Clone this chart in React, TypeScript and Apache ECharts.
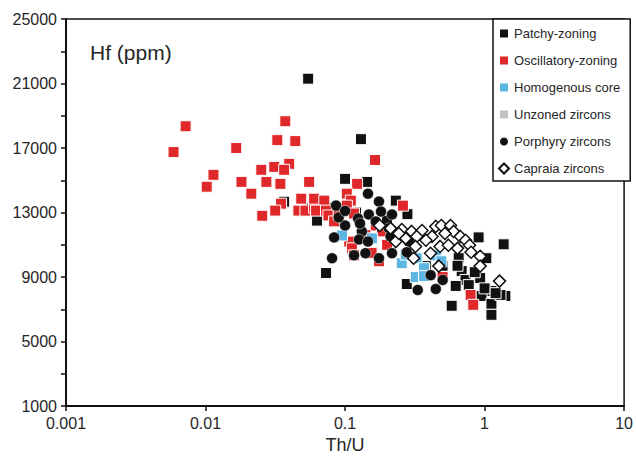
import React, { useEffect, useRef } from "react";
import * as echarts from "echarts";

const seriesNames = [
  "Patchy-zoning",
  "Oscillatory-zoning",
  "Homogenous core",
  "Unzoned zircons",
  "Porphyry zircons",
  "Capraia zircons",
];

const patchy: number[][] = [
  [0.0544, 21300], [0.13, 17550], [0.1, 15090], [0.144, 14900], [0.231, 13740],
  [0.0366, 13670], [0.057, 13250], [0.063, 12500], [0.075, 13300], [0.12, 13000],
  [0.0731, 9250], [0.906, 11460], [1.37, 11030], [1.03, 10170], [0.652, 10170],
  [0.685, 9370], [0.73, 8820], [0.621, 8450], [0.77, 8500], [0.93, 8940],
  [1.12, 8140], [0.95, 7830], [0.581, 7220], [1.12, 7340], [1.12, 6660],
  [1.41, 7830], [1.3, 7890], [0.277, 8570], [0.379, 9680], [0.64, 9700],
  [0.85, 9300], [1.0, 8300], [1.2, 8000], [0.5, 9700], [0.2, 12500], [0.28, 12900],
];

const oscillatory: number[][] = [
  [0.0059, 16750], [0.0072, 18350], [0.0166, 17000], [0.0114, 15340], [0.0102, 14600],
  [0.0181, 14900], [0.0213, 14170], [0.0251, 15650], [0.0255, 12800], [0.0273, 14900],
  [0.0311, 15830], [0.0327, 17490], [0.0344, 14780], [0.0373, 18660], [0.0398, 16020],
  [0.0366, 15650], [0.044, 17430], [0.0348, 13550], [0.0316, 13120], [0.0485, 13860],
  [0.0553, 14900], [0.0463, 13120], [0.052, 13120], [0.06, 13300], [0.164, 16260],
  [0.122, 14780], [0.103, 14170], [0.26, 13430], [0.06, 13860], [0.071, 13740],
  [0.062, 13120], [0.073, 13120], [0.076, 12820], [0.11, 13740], [0.103, 13430],
  [0.116, 12940], [0.0835, 12450], [0.166, 12200], [0.184, 11830], [0.107, 11200],
  [0.112, 10780], [0.175, 9980], [0.116, 10350], [0.794, 7890], [0.83, 7280],
  [0.09, 12900], [0.14, 11600], [0.2, 11000], [0.155, 10500], [0.5, 9000],
];

const homogenous: number[][] = [
  [0.0952, 11580], [0.156, 11400], [0.255, 9860], [0.326, 10170], [0.368, 9550],
  [0.321, 9000], [0.368, 9060], [0.447, 10350], [0.49, 9980], [0.272, 10400],
];

const unzoned: number[][] = [];

const porphyry: number[][] = [
  [0.146, 14170], [0.0863, 13430], [0.175, 13680], [0.148, 12880], [0.181, 13060],
  [0.217, 12880], [0.1, 12200], [0.124, 12630], [0.132, 11830], [0.206, 12020],
  [0.0835, 11460], [0.126, 11330], [0.146, 11200], [0.212, 11520], [0.286, 11200],
  [0.0807, 10170], [0.116, 10350], [0.14, 10480], [0.175, 10170], [0.217, 10480],
  [0.277, 10540], [0.411, 9120], [0.501, 8820], [0.332, 8200], [0.447, 8260],
  [0.128, 12320], [0.166, 12450], [0.09, 12700], [0.1, 13100],
];

const capraia: number[][] = [
  [0.177, 12200], [0.212, 12020], [0.255, 11950], [0.3, 11830], [0.356, 11890],
  [0.447, 12140], [0.49, 12200], [0.57, 12200], [0.6, 11830], [0.67, 11520],
  [0.73, 11280], [0.52, 11700], [0.42, 11520], [0.38, 11280], [0.326, 11520],
  [0.272, 11400], [0.231, 11200], [0.243, 11700], [0.32, 10900], [0.41, 10480],
  [0.48, 10900], [0.55, 10970], [0.64, 10780], [0.78, 10970], [0.8, 10540],
  [0.93, 10290], [0.93, 9680], [0.47, 9680], [0.31, 10170], [1.28, 8750],
];

const xTickValues = [0.001, 0.01, 0.1, 1, 10];
const xTickLabels = ["0.001", "0.01", "0.1", "1", "10"];
const yLabelValues = [1000, 5000, 9000, 13000, 17000, 21000, 25000];
const yTickValues = [1000, 3000, 5000, 7000, 9000, 11000, 13000, 15000, 17000, 19000, 21000, 23000, 25000];

const FONT = "'Liberation Sans', Arial, Helvetica, sans-serif";
const TEXT = "#262626";

export default function App() {
  const ref = useRef<HTMLDivElement>(null);
  useEffect(() => {
    document.body.style.margin = "0";
    if (!ref.current) return;
    const chart = echarts.init(ref.current, null, { renderer: "svg" });
    const sq = (color: string) => ({ color, borderColor: "#fff", borderWidth: 1, opacity: 1 });
    chart.setOption({
      animation: false,
      backgroundColor: "#fff",
      textStyle: { fontFamily: FONT },
      grid: {
        left: 66, right: 9, top: 19, bottom: 50,
        show: true, borderColor: "#111", borderWidth: 1.5, backgroundColor: "transparent",
      },
      xAxis: {
        type: "log",
        logBase: 10,
        min: 0.001,
        max: 10,
        name: "Th/U",
        nameLocation: "middle",
        nameGap: 22,
        nameTextStyle: { fontSize: 18, color: TEXT, fontFamily: FONT },
        axisLine: { show: true, lineStyle: { color: "#111", width: 2 } },
        axisTick: { show: true, inside: false, length: 5, lineStyle: { color: "#111", width: 1.5 } },
        minorTick: { show: false },
        splitLine: { show: false },
        axisLabel: {
          fontSize: 16, color: TEXT, margin: 9, fontFamily: FONT,
          formatter: (v: number) => {
            const i = xTickValues.findIndex((t) => Math.abs(Math.log10(t) - Math.log10(v)) < 1e-6);
            return i >= 0 ? xTickLabels[i] : "";
          },
        },
      },
      yAxis: {
        type: "value",
        min: 1000,
        max: 25000,
        axisLine: { show: true, lineStyle: { color: "#111", width: 2 } },
        axisTick: { show: true, inside: false, length: 5, customValues: yTickValues, lineStyle: { color: "#111", width: 1.5 } },
        splitLine: { show: false },
        axisLabel: {
          fontSize: 16, color: TEXT, margin: 9, fontFamily: FONT, customValues: yLabelValues,
          formatter: (v: number) => String(Math.round(v)),
        },
      },
      legend: {
        orient: "vertical",
        left: 493,
        top: 19,
        padding: [8, 10, 6, 5],
        itemWidth: 10,
        itemHeight: 10,
        itemGap: 14,
        backgroundColor: "#fff",
        borderColor: "#111",
        borderWidth: 1.5,
        borderRadius: 0,
        textStyle: { fontSize: 13, color: TEXT, fontFamily: FONT, lineHeight: 12 },
        data: [
          { name: seriesNames[0], icon: "rect" },
          { name: seriesNames[1], icon: "rect" },
          { name: seriesNames[2], icon: "rect" },
          { name: seriesNames[3], icon: "rect" },
          { name: seriesNames[4], icon: "circle" },
          { name: seriesNames[5], icon: "diamond" },
        ],
      },
      graphic: [
        {
          type: "text",
          left: 90,
          top: 42,
          style: { text: "Hf (ppm)", fontSize: 21, fill: TEXT, fontFamily: FONT },
        },
      ],
      series: [
        { name: seriesNames[0], type: "scatter", symbol: "rect", symbolSize: 11, data: patchy, itemStyle: sq("#111") },
        { name: seriesNames[1], type: "scatter", symbol: "rect", symbolSize: 11, data: oscillatory, itemStyle: sq("#e0282b") },
        { name: seriesNames[2], type: "scatter", symbol: "rect", symbolSize: 11, data: homogenous, itemStyle: sq("#5cb6e4") },
        { name: seriesNames[3], type: "scatter", symbol: "rect", symbolSize: 11, data: unzoned, itemStyle: sq("#c4c4c4") },
        { name: seriesNames[4], type: "scatter", symbol: "circle", symbolSize: 11, data: porphyry, itemStyle: { color: "#111", borderColor: "#fff", borderWidth: 0.5, opacity: 1 } },
        { name: seriesNames[5], type: "scatter", symbol: "diamond", symbolSize: 12, data: capraia, itemStyle: { color: "#fff", borderColor: "#111", borderWidth: 1.5, opacity: 1 } },
      ],
    });
    return () => chart.dispose();
  }, []);
  return <div ref={ref} style={{ width: 636, height: 459 }} />;
}
